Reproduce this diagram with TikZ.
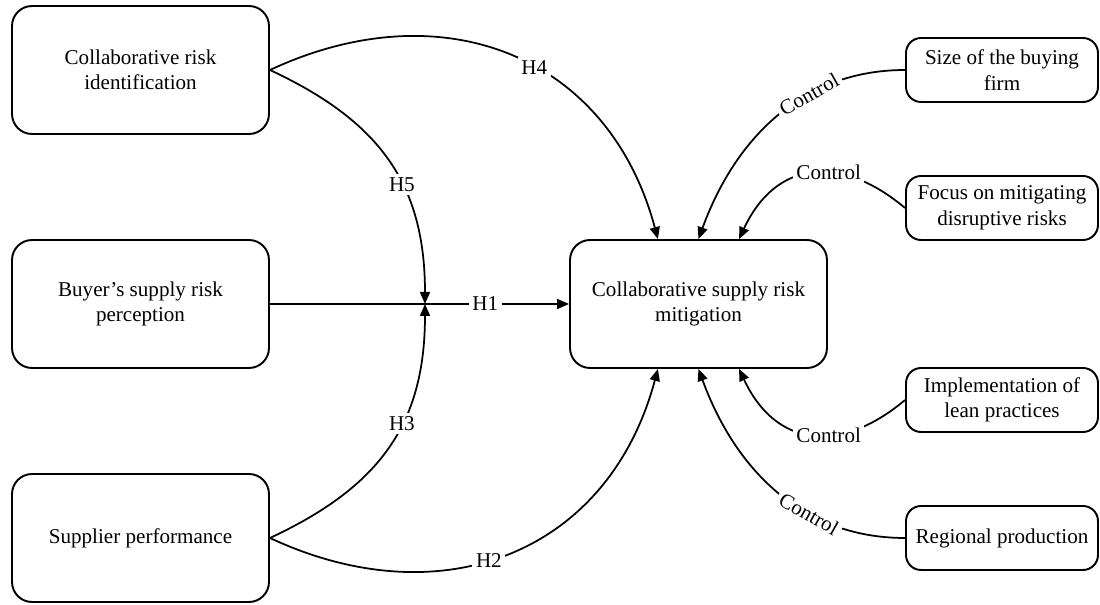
\documentclass[tikz,border=0pt]{standalone}
\usepackage{fontspec}
\setmainfont{Liberation Serif}
\usetikzlibrary{arrows.meta,positioning}

\begin{document}
\begin{tikzpicture}[
  x=0.02cm, y=0.02cm,
  font=\fontsize{12}{14.5}\selectfont,
  box/.style={draw, line width=1.1pt, rounded corners=0.4cm, align=center, minimum width=5.14cm, minimum height=2.56cm, inner sep=4pt},
  ctrlbox/.style={draw, line width=1.1pt, rounded corners=0.3cm, align=center, minimum width=3.84cm, minimum height=1.28cm, inner sep=2pt},
  arrow/.style={-{Triangle[length=2.4mm, width=2mm]}, line width=1pt},
  lbl/.style={fill=white, inner sep=2pt}
]
\useasboundingbox (0,0) rectangle (1100,605);
\node[box] (ident) at (140.5,535) {Collaborative risk\\identification};
\node[box] (percep) at (140.5,301) {Buyer's supply risk\\perception};
\node[box] (perf) at (140.5,67) {Supplier performance};
\node[box] (mitig) at (698.5,301) {Collaborative supply risk\\mitigation};
\node[ctrlbox] (size) at (1002,535) {Size of the buying\\firm};
\node[ctrlbox] (focus) at (1002,397) {Focus on mitigating\\disruptive risks};
\node[ctrlbox] (lean) at (1002,205) {Implementation of\\lean practices};
\node[ctrlbox] (region) at (1002,67) {Regional production};
\coordinate (join) at (425,301);
\draw[arrow] (percep) -- node[lbl, pos=0.72] {H1} (mitig);
\draw[arrow] (ident.east) to[out=-25, in=90, looseness=1.1] node[lbl, pos=0.6] {H5} (join);
\draw[arrow] (perf.east) to[out=25, in=-90, looseness=1.1] node[lbl, pos=0.6] {H3} (join);
\draw[arrow] (ident.east) to[out=25, in=105, looseness=1.15] node[lbl, pos=0.56] {H4} (mitig.122);
\draw[arrow] (perf.east) to[out=-25, in=-105, looseness=1.15] node[lbl, pos=0.45] {H2} (mitig.-122);
\draw[arrow] (size.west) to[out=180, in=70] node[lbl, sloped, pos=0.35] {Control} (mitig.north);
\draw[arrow] (focus.west) to[out=140, in=65, looseness=1.3] node[lbl, pos=0.4] {Control} (mitig.58);
\draw[arrow] (lean.west) to[out=-140, in=-65, looseness=1.3] node[lbl, pos=0.4] {Control} (mitig.-58);
\draw[arrow] (region.west) to[out=180, in=-70] node[lbl, sloped, pos=0.35] {Control} (mitig.south);
\end{tikzpicture}
\end{document}
